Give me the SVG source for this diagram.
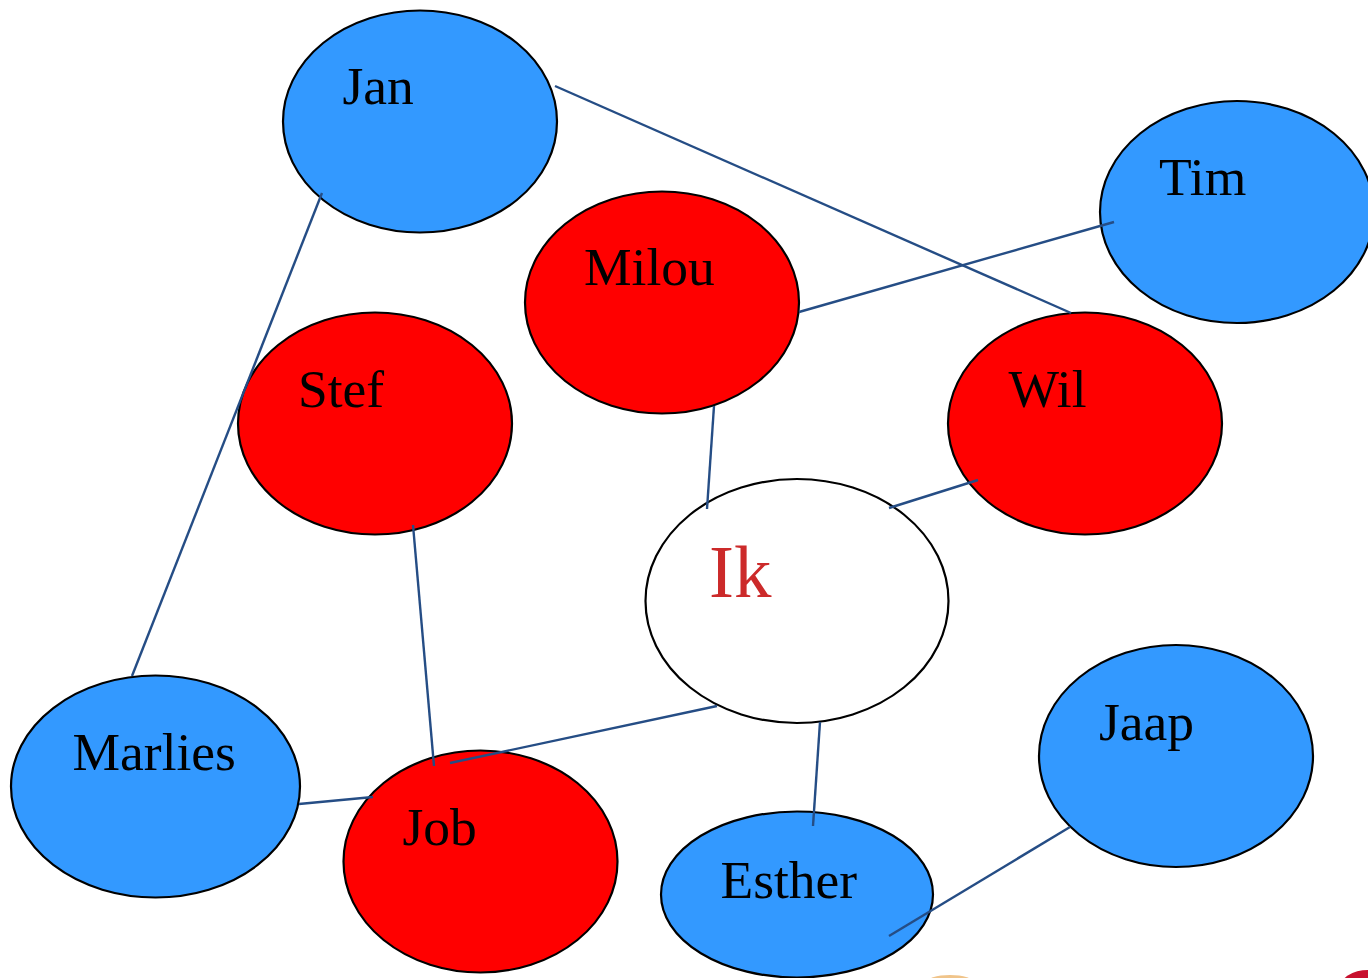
<svg xmlns="http://www.w3.org/2000/svg" width="1368" height="978" viewBox="0 0 1368 978">
<style>
.n{stroke:#000;stroke-width:2.2}
.b{fill:#3399ff}.r{fill:#ff0000}.w{fill:#fff}
text{font-family:"Liberation Serif","Times New Roman",serif;font-size:53.500px;fill:#000}
#connectors line{stroke:#254d85;stroke-width:2.400}
</style>
<rect width="1368" height="978" fill="#fff"/>
<ellipse cx="950" cy="983" rx="24" ry="8" fill="#f0c48a"/>
<ellipse cx="1368" cy="988" rx="28" ry="18" fill="#c8102e"/>
<g id="node-jan"><ellipse class="n b" cx="420" cy="121.500" rx="137" ry="111"/><text x="342.500" y="104">Jan</text></g>
<g id="node-tim"><ellipse class="n b" cx="1237" cy="212" rx="137" ry="111"/><text x="1159" y="195">Tim</text></g>
<g id="node-milou"><ellipse class="n r" cx="662" cy="302.500" rx="137" ry="111"/><text x="584" y="285">Milou</text></g>
<g id="node-stef"><ellipse class="n r" cx="375" cy="423.500" rx="137" ry="111"/><text x="298" y="407">Stef</text></g>
<g id="node-wil"><ellipse class="n r" cx="1085" cy="423.500" rx="137" ry="111"/><text x="1008.500" y="407">Wil</text></g>
<g id="node-ik"><ellipse class="n w" cx="797" cy="601" rx="151.500" ry="122"/><text x="709" y="597" style="font-size:75px;fill:#cc2a2a">Ik</text></g>
<g id="node-marlies"><ellipse class="n b" cx="155.500" cy="786.500" rx="144.500" ry="111"/><text x="72.500" y="770">Marlies</text></g>
<g id="node-job"><ellipse class="n r" cx="480.500" cy="861.500" rx="137" ry="111"/><text x="402.500" y="845">Job</text></g>
<g id="node-jaap"><ellipse class="n b" cx="1176" cy="756" rx="137" ry="111"/><text x="1099" y="740">Jaap</text></g>
<g id="node-esther"><ellipse class="n b" cx="797" cy="894.500" rx="136" ry="83"/><text x="720.500" y="898">Esther</text></g>
<g id="connectors">
<line x1="555" y1="86" x2="1071" y2="313"/>
<line x1="322" y1="193" x2="132" y2="676"/>
<line x1="1114" y1="222" x2="799" y2="312"/>
<line x1="714" y1="406" x2="707" y2="509"/>
<line x1="978" y1="480" x2="889" y2="508"/>
<line x1="413" y1="525" x2="434" y2="766"/>
<line x1="717" y1="706" x2="450" y2="763"/>
<line x1="299" y1="804" x2="373" y2="797"/>
<line x1="820" y1="722" x2="813" y2="826"/>
<line x1="1070" y1="827" x2="889" y2="936"/>
</g>
</svg>
